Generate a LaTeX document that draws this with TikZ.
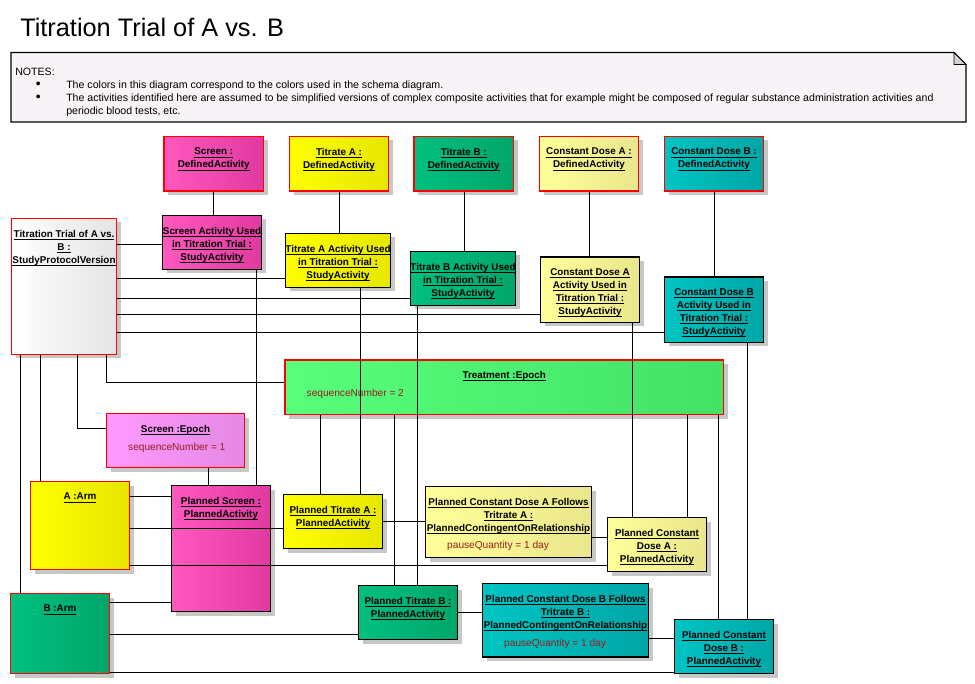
\documentclass[tikz,border=0pt]{standalone}
\usepackage{fontspec}
\setmainfont{Liberation Sans}
\usetikzlibrary{fit,shadows}

\definecolor{magL}{RGB}{255,88,190}
\definecolor{magR}{RGB}{224,58,160}
\definecolor{yelL}{RGB}{255,255,0}
\definecolor{yelR}{RGB}{230,230,0}
\definecolor{grnL}{RGB}{0,192,128}
\definecolor{grnR}{RGB}{0,166,106}
\definecolor{lyelL}{RGB}{255,255,153}
\definecolor{lyelR}{RGB}{234,230,140}
\definecolor{tealL}{RGB}{0,196,196}
\definecolor{tealR}{RGB}{0,166,166}
\definecolor{epgL}{RGB}{88,255,122}
\definecolor{epgR}{RGB}{66,226,102}
\definecolor{pinkL}{RGB}{255,154,255}
\definecolor{pinkR}{RGB}{228,136,228}
\definecolor{protoR}{RGB}{228,228,228}
\definecolor{attred}{RGB}{150,30,30}
\definecolor{notebg}{RGB}{247,243,247}
\definecolor{foldgray}{RGB}{212,208,212}

% underlined name line, as in the object boxes
\newcommand{\ulin}[1]{\setbox0\hbox{#1}\rlap{\rule[-1.9pt]{\wd0}{0.6pt}}\box0}
% one bullet line of the notes
\newcommand{\nbul}{\makebox[38.25pt][l]{\hspace*{15.5pt}\raisebox{0.2pt}{\scalebox{1.3}{\textbullet}}}}

\begin{document}
\begin{tikzpicture}[x=0.75pt, y=-0.75pt,
    box/.style={rectangle, inner sep=0pt, line width=0.8pt,
        drop shadow={shadow xshift=3pt, shadow yshift=-3pt, fill=black!22, opacity=1}},
    objbox/.style={box, draw=red},
    actbox/.style={box, draw=black},
    fillmag/.style={left color=magL, middle color=magL, right color=magR},
    fillyel/.style={left color=yelL, middle color=yelL, right color=yelR},
    fillgrn/.style={left color=grnL, middle color=grnL, right color=grnR},
    filllyel/.style={left color=lyelL, middle color=lyelL, right color=lyelR},
    fillteal/.style={left color=tealL, middle color=tealL, right color=tealR},
    fillepg/.style={left color=epgL, middle color=epgL, right color=epgR},
    fillpink/.style={left color=pinkL, middle color=pinkL, right color=pinkR},
    fillproto/.style={left color=white, middle color=white, right color=protoR},
    ttl/.style={anchor=north, inner sep=0pt, yshift=-8.9pt, align=center,
        font=\bfseries\fontsize{7.4}{9.75}\selectfont},
    att/.style={anchor=base west, inner sep=0pt, xshift=16.5pt, text=attred,
        font=\fontsize{7.6}{9}\selectfont},
    conn/.style={line width=0.75pt},
    ]

    \useasboundingbox (0,0) rectangle (975,684);
    \fill[white] (0,0) rectangle (975,684);

    % Title
    \node[anchor=base west, inner sep=0pt, font=\fontsize{19}{22}\selectfont] (title) at (20,37) {Titration Trial of A vs. B};

    % Notes
    \draw[line width=0.8pt, fill=notebg] (11,52.5) -- (954,52.5) -- (966,64.5) -- (966,122) -- (11,122) -- cycle;
    \draw[line width=0.6pt, fill=foldgray] (954,52.5) -- (954,64.5) -- (966,64.5) -- cycle;
    \node[anchor=north west, inner sep=0pt, align=left, font=\fontsize{7.95}{9.75}\selectfont] (notes) at (15,68) {NOTES:\\
        \nbul The colors in this diagram correspond to the colors used in the schema diagram.\\
        \nbul The activities identified here are assumed to be simplified versions of complex composite activities that for example might be composed of regular substance administration activities and\\
        \hspace*{38.25pt}periodic blood tests, etc.};

    % Defined activities
    \node[objbox, fillmag, fit={(164,136.5)(263.5,191)},
        label={[ttl]north:{\ulin{Screen :}\\\ulin{DefinedActivity}}}] (scrDA) {};
    \node[objbox, fillyel, fit={(289.5,136.5)(388.5,191)},
        label={[ttl]north:{\ulin{Titrate A :}\\\ulin{DefinedActivity}}}] (titADA) {};
    \node[objbox, fillgrn, fit={(414,136.5)(513.5,191)},
        label={[ttl]north:{\ulin{Titrate B :}\\\ulin{DefinedActivity}}}] (titBDA) {};
    \node[objbox, filllyel, fit={(539.5,136.5)(638.5,191)},
        label={[ttl]north:{\ulin{Constant Dose A :}\\\ulin{DefinedActivity}}}] (cdADA) {};
    \node[objbox, fillteal, fit={(664.5,136.5)(763.5,191)},
        label={[ttl]north:{\ulin{Constant Dose B :}\\\ulin{DefinedActivity}}}] (cdBDA) {};

    % Study protocol version
    \node[objbox, fillproto, fit={(11.5,218.5)(116.5,354.5)},
        label={[ttl]north:{\ulin{Titration Trial of A vs.}\\\ulin{B :}\\\ulin{StudyProtocolVersion}}}] (proto) {};

    % Study activities
    \node[actbox, fillmag, fit={(162.5,215.5)(261.5,269.5)},
        label={[ttl]north:{\ulin{Screen Activity Used}\\\ulin{in Titration Trial :}\\\ulin{StudyActivity}}}] (scrSA) {};
    \node[actbox, fillyel, fit={(285.5,233.5)(390.5,287.5)},
        label={[ttl]north:{\ulin{Titrate A Activity Used}\\\ulin{in Titration Trial :}\\\ulin{StudyActivity}}}] (titASA) {};
    \node[actbox, fillgrn, fit={(410.5,251.5)(515.5,305.5)},
        label={[ttl]north:{\ulin{Titrate B Activity Used}\\\ulin{in Titration Trial :}\\\ulin{StudyActivity}}}] (titBSA) {};
    \node[actbox, filllyel, fit={(540.5,257)(639.5,322.5)},
        label={[ttl]north:{\ulin{Constant Dose A}\\\ulin{Activity Used in}\\\ulin{Titration Trial :}\\\ulin{StudyActivity}}}] (cdASA) {};
    \node[actbox, fillteal, fit={(664.5,277)(763.5,342.5)},
        label={[ttl]north:{\ulin{Constant Dose B}\\\ulin{Activity Used in}\\\ulin{Titration Trial :}\\\ulin{StudyActivity}}}] (cdBSA) {};

    % Epochs
    \node[objbox, fillepg, fit={(285,360)(723.5,414.5)},
        label={[ttl]north:{\ulin{Treatment :Epoch}}},
        label={[att, yshift=-27.75pt]north west:{sequenceNumber = 2}}] (treatEp) {};
    \node[objbox, fillpink, fit={(106.5,413.5)(244.5,467.5)},
        label={[ttl]north:{\ulin{Screen :Epoch}}},
        label={[att, yshift=-28pt]north west:{sequenceNumber = 1}}] (scrEp) {};

    % Arms
    \node[objbox, fillyel, fit={(30.5,481.5)(129.5,569.5)},
        label={[ttl]north:{\ulin{A :Arm}}}] (armA) {};
    \node[objbox, fillgrn, fit={(10.5,593.5)(109.5,673.5)},
        label={[ttl]north:{\ulin{B :Arm}}}] (armB) {};

    % Planned activities
    \node[actbox, fillmag, fit={(171.5,485.5)(270.5,611.5)},
        label={[ttl]north:{\ulin{Planned Screen :}\\\ulin{PlannedActivity}}}] (plScr) {};
    \node[actbox, fillyel, fit={(283.5,494.5)(382.5,548.5)},
        label={[ttl]north:{\ulin{Planned Titrate A :}\\\ulin{PlannedActivity}}}] (plTitA) {};
    \node[actbox, filllyel, fit={(425.5,486.5)(591.5,557.5)},
        label={[ttl]north:{\ulin{Planned Constant Dose A Follows}\\\ulin{Tritrate A :}\\\ulin{PlannedContingentOnRelationship}}},
        label={[att, yshift=-47.25pt]north west:{pauseQuantity = 1 day}}] (follA) {};
    \node[actbox, filllyel, fit={(607.5,517.5)(706.5,571.5)},
        label={[ttl]north:{\ulin{Planned Constant}\\\ulin{Dose A :}\\\ulin{PlannedActivity}}}] (plCdA) {};
    \node[actbox, fillgrn, fit={(358.5,585.5)(457.5,639.5)},
        label={[ttl]north:{\ulin{Planned Titrate B :}\\\ulin{PlannedActivity}}}] (plTitB) {};
    \node[actbox, fillteal, fit={(482.5,583.5)(648.5,657)},
        label={[ttl]north:{\ulin{Planned Constant Dose B Follows}\\\ulin{Tritrate B :}\\\ulin{PlannedContingentOnRelationship}}},
        label={[att, yshift=-47.5pt]north west:{pauseQuantity = 1 day}}] (follB) {};
    \node[actbox, fillteal, fit={(674.5,619.5)(773.5,673.5)},
        label={[ttl]north:{\ulin{Planned Constant}\\\ulin{Dose B :}\\\ulin{PlannedActivity}}}] (plCdB) {};

    % Defined activities to study activities
    \foreach \src/\tgt/\xx in {scrDA/scrSA/213.3, titADA/titASA/339.3, titBDA/titBSA/464.3,
                               cdADA/cdASA/589.3, cdBDA/cdBSA/714.3}
        \draw[conn] (\src.south -| \xx,0) -- (\tgt.north -| \xx,0);

    % Protocol to study activities
    \foreach \tgt/\yy in {scrSA/244.3, titASA/278.3, titBSA/298.3, cdASA/314.3, cdBSA/333}
        \draw[conn] (proto.east |- 0,\yy) -- (\tgt.west |- 0,\yy);

    % Protocol to epochs and arms
    \draw[conn] (proto.south -| 106.3,0) |- (treatEp.west |- 0,382.3);
    \draw[conn] (proto.south -| 77.3,0) |- (scrEp.west |- 0,428.3);
    \draw[conn] (proto.south -| 40.3,0) -- (armA.north -| 40.3,0);
    \draw[conn] (proto.south -| 20.7,0) -- (armB.north -| 20.7,0);

    % Down to planned activities
    \foreach \src/\tgt/\xx in {scrSA/plScr/256.7, scrEp/plScr/208.3, titASA/plTitA/360.7,
                               titBSA/plTitB/417.3, cdASA/plCdA/632.3, cdBSA/plCdB/747.3,
                               treatEp/plTitA/320.3, treatEp/plTitB/394.3,
                               treatEp/plCdA/687.3, treatEp/plCdB/718.3}
        \draw[conn] (\src.south -| \xx,0) -- (\tgt.north -| \xx,0);

    % Across to planned activities
    \foreach \src/\tgt/\yy in {armA/plScr/496, armA/plTitA/528.3, armA/plCdA/565.3,
                               armB/plScr/602.3, armB/plTitB/634.3, armB/plCdB/672.3,
                               plTitA/follA/521.3, follA/plCdA/537.3,
                               plTitB/follB/612.3, follB/plCdB/638.3}
        \draw[conn] (\src.east |- 0,\yy) -- (\tgt.west |- 0,\yy);

\end{tikzpicture}
\end{document}
